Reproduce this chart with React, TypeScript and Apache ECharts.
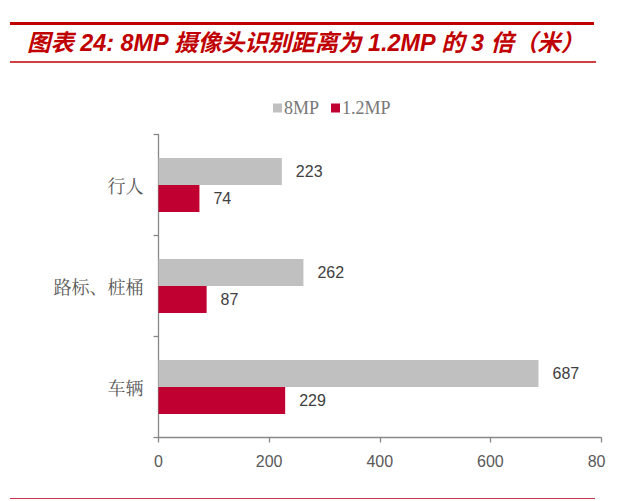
import React, { useEffect, useRef } from "react";
import * as echarts from "echarts";

const categories = ["行人", "路标、桩桶", "车辆"];
const series8MP = [223, 262, 687];
const series12MP = [74, 87, 229];
const legendNames = ["8MP", "1.2MP"];
const xTicks = { min: 0, max: 800, interval: 200 };
const titleText = "图表 24: 8MP 摄像头识别距离为 1.2MP 的 3 倍（米）";

const RED = "#C00000";
const BAR_RED = "#C00030";
const BAR_GRAY = "#C0C0C0";

export default function App() {
  const ref = useRef<HTMLDivElement>(null);
  useEffect(() => {
    if (!ref.current) return;
    const chart = echarts.init(ref.current, undefined, { renderer: "svg" });
    const labelStyle = {
      show: true,
      position: "right" as const,
      distance: 14,
      fontSize: 16,
      color: "#404040",
      fontFamily: "Liberation Sans, Arial, sans-serif",
    };
    chart.setOption({
      animation: false,
      backgroundColor: "#ffffff",
      legend: {
        data: legendNames,
        left: 268,
        top: 94,
        itemWidth: 9,
        itemHeight: 9,
        itemGap: 12,
        icon: "rect",
        textStyle: {
          fontSize: 18,
          color: "#777777",
          fontFamily: "Liberation Serif, Times New Roman, serif",
          padding: [0, 0, 0, -3],
        },
      },
      grid: {
        left: 158.5,
        right: 5,
        top: 134.5,
        bottom: 63.5,
        containLabel: false,
        outerBoundsMode: "none",
      },
      xAxis: {
        type: "value",
        min: xTicks.min,
        max: xTicks.max,
        interval: xTicks.interval,
        splitLine: { show: false },
        axisLine: { show: true, lineStyle: { color: "#888888", width: 1.3 } },
        axisTick: { show: true, length: 5, lineStyle: { color: "#888888", width: 1.3 } },
        axisLabel: {
          fontSize: 16,
          color: "#595959",
          margin: 16,
          hideOverlap: false,
          fontFamily: "Liberation Sans, Arial, sans-serif",
        },
      },
      yAxis: {
        type: "category",
        data: categories,
        inverse: true,
        axisLine: { show: true, lineStyle: { color: "#888888", width: 1.3 } },
        axisTick: { show: true, length: 5, lineStyle: { color: "#888888", width: 1.3 } },
        axisLabel: {
          fontSize: 18,
          color: "#595959",
          margin: 15,
          fontFamily: "Noto Serif CJK SC, Noto Sans CJK SC, serif",
        },
      },
      series: [
        {
          name: legendNames[0],
          type: "bar",
          data: series8MP,
          barWidth: 27,
          barGap: "0%",
          itemStyle: { color: BAR_GRAY },
          label: labelStyle,
        },
        {
          name: legendNames[1],
          type: "bar",
          data: series12MP,
          barWidth: 27,
          barGap: "0%",
          itemStyle: { color: BAR_RED },
          label: labelStyle,
        },
      ],
      graphic: [
        {
          type: "line",
          shape: { x1: 10, y1: 23.5, x2: 594, y2: 23.5 },
          style: { stroke: RED, lineWidth: 3 },
        },
        {
          type: "text",
          x: 27,
          y: 43,
          style: {
            text: titleText,
            fill: RED,
            fontSize: 23.4,
            fontStyle: "italic",
            fontWeight: "bold",
            fontFamily: "Liberation Sans, Noto Sans CJK SC, sans-serif",
            verticalAlign: "middle",
          },
        },
        {
          type: "line",
          shape: { x1: 10, y1: 62, x2: 596, y2: 62 },
          style: { stroke: RED, lineWidth: 1.3 },
        },
        {
          type: "line",
          shape: { x1: 10, y1: 498.5, x2: 595, y2: 498.5 },
          style: { stroke: "#C8384F", lineWidth: 1.2 },
        },
      ],
    });
    return () => chart.dispose();
  }, []);
  return (
    <div style={{ position: "absolute", left: 0, top: 0, width: 640, height: 501, background: "#fff" }}>
      <div ref={ref} style={{ position: "absolute", left: 0, top: 0, width: 606, height: 501, overflow: "hidden" }} />
    </div>
  );
}
